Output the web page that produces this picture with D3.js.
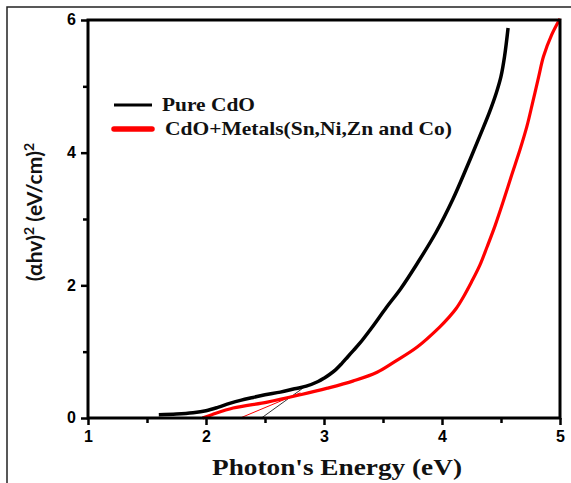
<!DOCTYPE html>
<html>
<head>
<meta charset="utf-8">
<script src="https://cdn.jsdelivr.net/npm/d3@7/dist/d3.min.js"></script>
<style>
  html, body { margin: 0; padding: 0; background: #fff; }
  svg { display: block; }
</style>
</head>
<body>
<svg id="chart" width="571" height="483"></svg>
<script>
// Tauc plot: (αhν)² versus photon energy
const xTicks = [1, 2, 3, 4, 5];
const xMinor = [1.5, 2.5, 3.5, 4.5];
const yTicks = [0, 2, 4, 6];
const yMinor = [1, 3, 5];

const seriesNames = ["Pure CdO", "CdO+Metals(Sn,Ni,Zn and Co)"];
const seriesColors = ["#000000", "#ff0000"];

// Pure CdO
const pureEnergy = [1.60, 1.75, 1.89, 2.00, 2.10, 2.20, 2.30, 2.40, 2.50, 2.63, 2.75, 2.85, 2.95, 3.00, 3.05, 3.10, 3.15, 3.20, 3.25, 3.30, 3.40, 3.53, 3.65, 3.79, 3.95, 4.09, 4.21, 4.32, 4.40, 4.46, 4.50, 4.53, 4.56];
const pureAbs    = [0.05, 0.06, 0.08, 0.11, 0.16, 0.22, 0.27, 0.31, 0.35, 0.39, 0.44, 0.48, 0.55, 0.60, 0.66, 0.73, 0.82, 0.92, 1.02, 1.12, 1.35, 1.67, 1.95, 2.33, 2.80, 3.29, 3.78, 4.25, 4.60, 4.90, 5.15, 5.45, 5.88];

// CdO doped with metals
const dopedEnergy = [1.97, 2.05, 2.23, 2.52, 2.80, 3.03, 3.25, 3.45, 3.60, 3.79, 3.98, 4.06, 4.12, 4.18, 4.25, 4.32, 4.38, 4.45, 4.52, 4.59, 4.66, 4.72, 4.77, 4.82, 4.86, 4.93, 5.00];
const dopedAbs    = [0.00, 0.05, 0.15, 0.24, 0.35, 0.45, 0.56, 0.69, 0.85, 1.07, 1.37, 1.52, 1.65, 1.82, 2.05, 2.30, 2.57, 2.90, 3.27, 3.66, 4.04, 4.40, 4.77, 5.15, 5.45, 5.78, 6.02];

// Linear extrapolations to the energy axis (band gap)
const pureFitEnergy = [2.47, 2.86];
const pureFitAbs    = [0.00, 0.50];
const dopedFitEnergy = [2.29, 2.80];
const dopedFitAbs    = [0.00, 0.38];

const svg = d3.select("#chart");

// outer frame
svg.append("rect")
  .attr("x", 7).attr("y", 7)
  .attr("width", 580).attr("height", 500)
  .attr("fill", "none").attr("stroke", "#222").attr("stroke-width", 1.5);

const plotLeft = 88, plotRight = 560, plotTop = 20, plotBottom = 418;
const x = d3.scaleLinear().domain([1, 5]).range([plotLeft, plotRight]);
const y = d3.scaleLinear().domain([0, 6]).range([plotBottom, plotTop]);

const line = d3.line().x(d => x(d[0])).y(d => y(d[1])).curve(d3.curveCatmullRom.alpha(0.5));
const straight = d3.line().x(d => x(d[0])).y(d => y(d[1]));

const zip = (a, b) => a.map((v, i) => [v, b[i]]);

// fit lines
svg.append("path").attr("d", straight(zip(dopedFitEnergy, dopedFitAbs)))
  .attr("fill", "none").attr("stroke", seriesColors[1]).attr("stroke-width", 1);
svg.append("path").attr("d", straight(zip(pureFitEnergy, pureFitAbs)))
  .attr("fill", "none").attr("stroke", "#000").attr("stroke-width", 0.8);

// data curves
svg.append("path").attr("d", line(zip(pureEnergy, pureAbs)))
  .attr("fill", "none").attr("stroke", seriesColors[0]).attr("stroke-width", 3.5)
  .attr("stroke-linejoin", "round");
svg.append("path").attr("d", line(zip(dopedEnergy, dopedAbs)))
  .attr("fill", "none").attr("stroke", seriesColors[1]).attr("stroke-width", 3.2)
  .attr("stroke-linejoin", "round");

// axes
const tickFont = "'Liberation Sans', Arial, sans-serif";
function styleAxis(g) {
  g.select(".domain").remove();
  g.selectAll(".tick line").attr("stroke", "#000").attr("stroke-width", 2.5);
  g.selectAll(".tick text").attr("font-family", tickFont).attr("font-weight", "bold")
    .attr("font-size", 16).attr("fill", "#000");
}

const gx = svg.append("g").attr("transform", `translate(0,${plotBottom})`)
  .call(d3.axisBottom(x).tickValues(xTicks).tickSize(7).tickPadding(6).tickFormat(d3.format("d")));
styleAxis(gx);
const gxm = svg.append("g").attr("transform", `translate(0,${plotBottom})`)
  .call(d3.axisBottom(x).tickValues(xMinor).tickSize(5).tickFormat(""));
styleAxis(gxm);

const gy = svg.append("g").attr("transform", `translate(${plotLeft},0)`)
  .call(d3.axisLeft(y).tickValues(yTicks).tickSize(7).tickPadding(5).tickFormat(d3.format("d")));
styleAxis(gy);
gy.selectAll(".tick text").attr("dy", "0.3em");
const gym = svg.append("g").attr("transform", `translate(${plotLeft},0)`)
  .call(d3.axisLeft(y).tickValues(yMinor).tickSize(5).tickFormat(""));
styleAxis(gym);

// plot box
svg.append("rect")
  .attr("x", plotLeft).attr("y", plotTop)
  .attr("width", plotRight - plotLeft).attr("height", plotBottom - plotTop)
  .attr("fill", "none").attr("stroke", "#000").attr("stroke-width", 3);

// axis titles
svg.append("text")
  .attr("x", 337).attr("y", 475)
  .attr("text-anchor", "middle")
  .attr("font-family", "'Liberation Serif', 'Times New Roman', serif")
  .attr("font-weight", "bold").attr("font-size", 23)
  .attr("textLength", 250).attr("lengthAdjust", "spacingAndGlyphs")
  .attr("fill", "#111")
  .text("Photon's Energy (eV)");

const yt = svg.append("text")
  .attr("transform", "translate(42,212) rotate(-90)")
  .attr("text-anchor", "middle")
  .attr("font-family", "Lato, 'Open Sans', sans-serif")
  .attr("font-weight", "bold").attr("font-size", 21)
  .attr("fill", "#111");
yt.append("tspan").text("(\u03b1hv)");
yt.append("tspan").attr("dy", -8).attr("font-size", 14).text("2");
yt.append("tspan").attr("dy", 8).text(" (eV/cm)");
yt.append("tspan").attr("dy", -8).attr("font-size", 14).text("2");

// legend
const legendRows = [
  { name: seriesNames[0], color: seriesColors[0], y: 105, w: 3, len: 93 },
  { name: seriesNames[1], color: seriesColors[1], y: 129, w: 5.5, len: 287 }
];
legendRows.forEach((r, i) => {
  svg.append("line")
    .attr("x1", 114).attr("x2", 152).attr("y1", r.y).attr("y2", r.y)
    .attr("stroke", r.color).attr("stroke-width", r.w)
    .attr("stroke-linecap", i === 1 ? "round" : "butt");
  svg.append("text")
    .attr("x", i === 0 ? 162 : 165).attr("y", r.y + 6)
    .attr("font-family", "'Liberation Serif', 'Times New Roman', serif")
    .attr("font-weight", "bold").attr("font-size", 19)
    .attr("textLength", r.len).attr("lengthAdjust", "spacingAndGlyphs")
    .attr("fill", "#111")
    .text(r.name);
});
</script>
</body>
</html>
